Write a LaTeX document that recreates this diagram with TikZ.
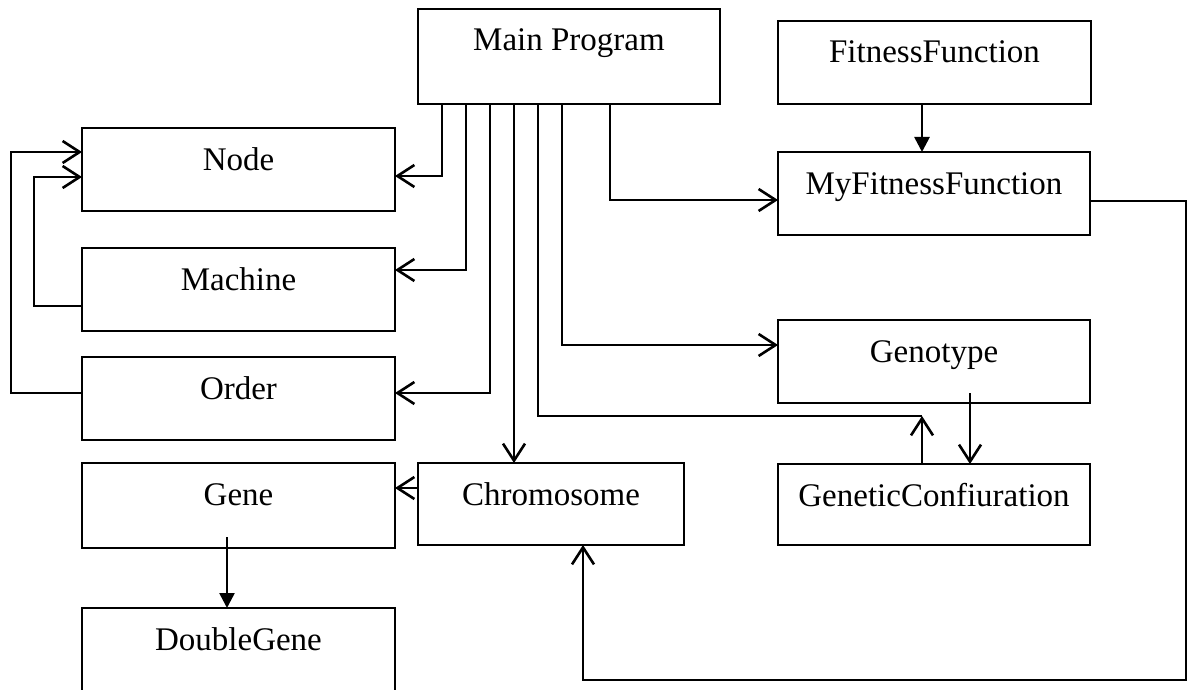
\documentclass[tikz,border=0pt]{standalone}
\usepackage{fontspec}
\setmainfont{Liberation Serif}
\usetikzlibrary{arrows.meta}
\begin{document}
\begin{tikzpicture}[x=1pt,y=-1pt,
  box/.style={draw, line width=2pt, rectangle, inner sep=0pt, outer sep=0pt, anchor=north west},
  lbl/.style={anchor=base, inner sep=0pt, font=\fontsize{33}{38}\selectfont},
  conn/.style={line width=2.6pt},
  open/.style={conn, -{Straight Barb[length=17pt,width=22pt,line width=2.6pt]}},
  filled/.style={conn, -{Triangle[length=15pt,width=15pt]}}]
\useasboundingbox (0,0) rectangle (1188,690);
\clip (0,0) rectangle (1188,690);
% boxes
\node[box, minimum width=302pt, minimum height=95pt] (main) at (418,9) {};
\node[box, minimum width=313pt, minimum height=83pt] (ff) at (778,21) {};
\node[box, minimum width=312pt, minimum height=83pt] (mff) at (778,152) {};
\node[box, minimum width=313pt, minimum height=83pt] (node) at (82,128) {};
\node[box, minimum width=313pt, minimum height=83pt] (machine) at (82,248) {};
\node[box, minimum width=313pt, minimum height=83pt] (order) at (82,357) {};
\node[box, minimum width=313pt, minimum height=85pt] (gene) at (82,463) {};
\node[box, minimum width=313pt, minimum height=100pt] (dgene) at (82,608) {};
\node[box, minimum width=266pt, minimum height=82pt] (chrom) at (418,463) {};
\node[box, minimum width=312pt, minimum height=83pt] (genotype) at (778,320) {};
\node[box, minimum width=312pt, minimum height=81pt] (gc) at (778,464) {};
% labels
\node[lbl] (mainT) at ([yshift=-42pt]main.north) {Main Program};
\node[lbl] (ffT) at ([yshift=-42pt]ff.north) {FitnessFunction};
\node[lbl] (mffT) at ([yshift=-42pt]mff.north) {MyFitnessFunction};
\node[lbl] (nodeT) at ([yshift=-42pt]node.north) {Node};
\node[lbl] (machineT) at ([yshift=-42pt]machine.north) {Machine};
\node[lbl] (orderT) at ([yshift=-42pt]order.north) {Order};
\node[lbl] (geneT) at ([yshift=-42pt]gene.north) {Gene};
\node[lbl] (dgeneT) at ([yshift=-42pt]dgene.north) {DoubleGene};
\node[lbl] (chromT) at ([yshift=-42pt]chrom.north) {Chromosome};
\node[lbl] (genotypeT) at ([yshift=-42pt]genotype.north) {Genotype};
\node[lbl] (gcT) at ([yshift=-42pt]gc.north) {GeneticConfiuration};
% connectors from Main Program
\draw[open] (main.south -| 442,0) |- (node.east |- 0,176);
\draw[open] (main.south -| 466,0) |- (machine.east |- 0,270);
\draw[open] (main.south -| 490,0) |- (order.east |- 0,393);
\draw[open] (main.south -| 514,0) -- (chrom.north -| 514,0);
\coordinate (j) at (922,416);
\draw[conn] (main.south -| 538,0) |- (j);
\draw[open] (gc.north -| j) -- (j);
\draw[open] (main.south -| 562,0) |- (genotype.west |- 0,345);
\draw[open] (main.south -| 610,0) |- (mff.west |- 0,200);
% other connectors
\draw[filled] (ff.south -| 922,0) -- (mff.north -| 922,0);
\draw[open] (genotype.south -| 970,0) ++(0,-10) -- (gc.north -| 970,0);
\draw[open] (chrom.west |- 0,488) -- (gene.east |- 0,488);
\draw[filled] (gene.south -| 227,0) ++(0,-11) -- (dgene.north -| 227,0);
\draw[open] (machine.west |- 0,306) -- (34,306) -- (34,177) -- (node.west |- 0,177);
\draw[open] (order.west |- 0,393) -- (11,393) -- (11,152) -- (node.west |- 0,152);
\draw[open] (mff.east |- 0,201) -- (1186,201) -- (1186,680) -- (583,680) -- (chrom.south -| 583,0);
\end{tikzpicture}
\end{document}
